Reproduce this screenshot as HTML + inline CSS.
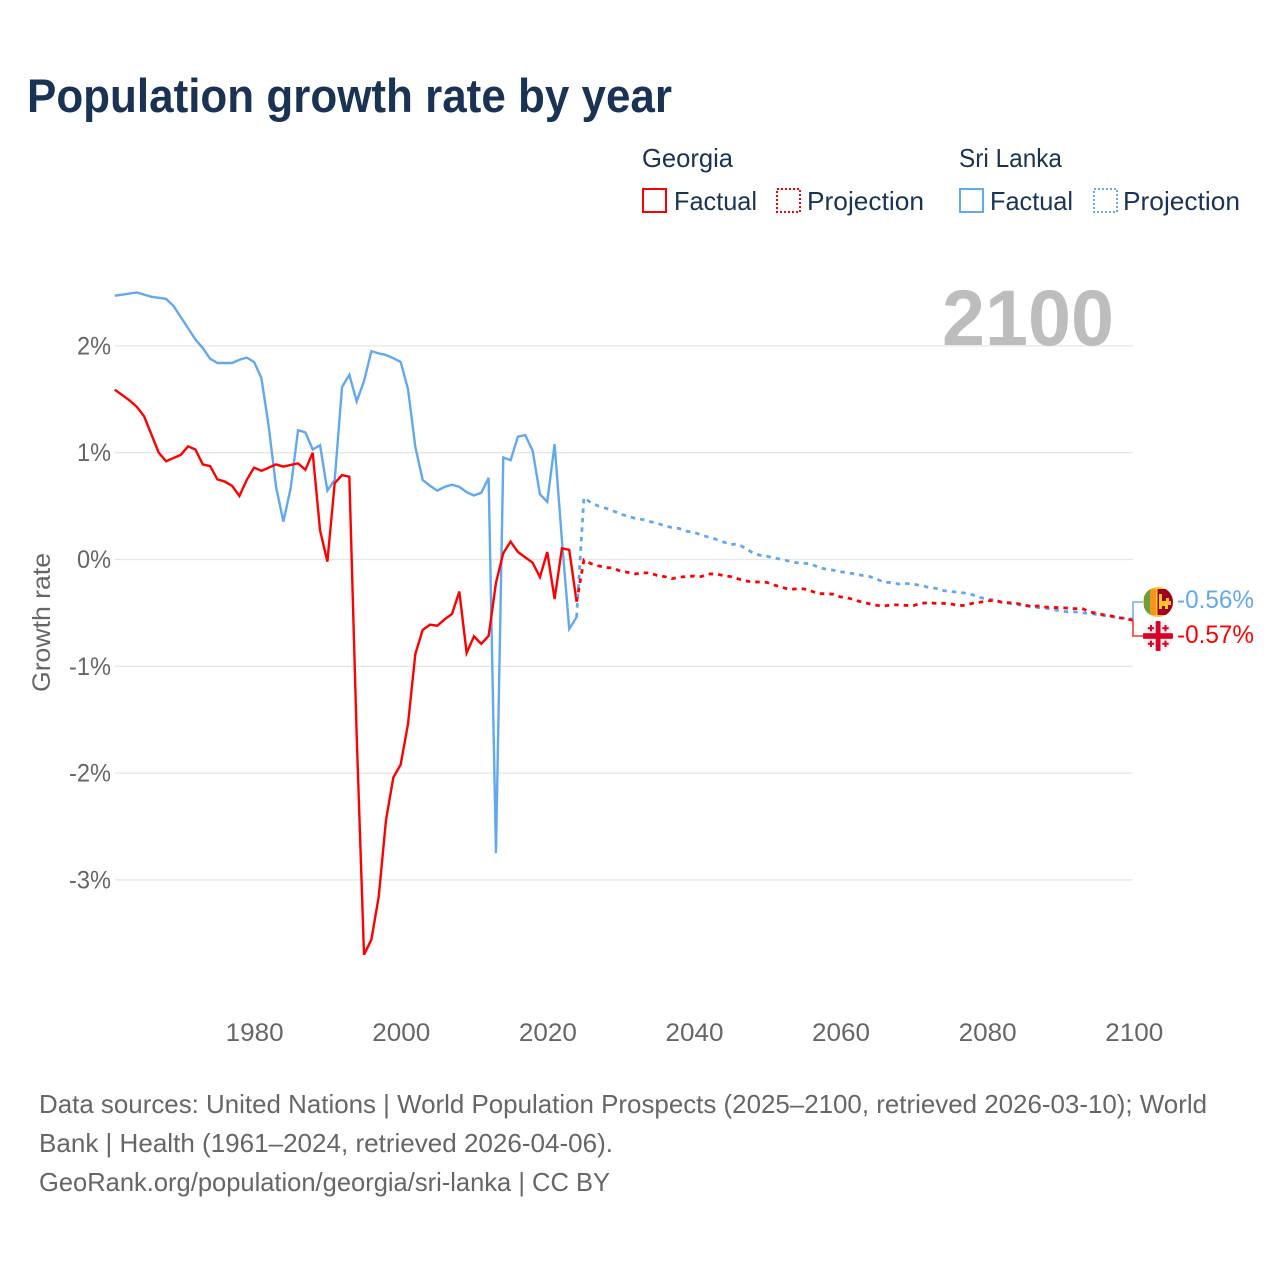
<!DOCTYPE html>
<html lang="en">
<head>
<meta charset="utf-8">
<title>Population growth rate by year</title>
<style>
html,body{margin:0;padding:0;background:#fff;}
#chart{display:block;width:1280px;height:1280px;font-family:"Liberation Sans",sans-serif;}
</style>
</head>
<body>
<svg id="chart" xmlns="http://www.w3.org/2000/svg" width="1280" height="1280" viewBox="0 0 1280 1280">
  <defs>
    <clipPath id="flag-clip-lk"><circle cx="1158" cy="602" r="15"/></clipPath>
    <clipPath id="flag-clip-ge"><circle cx="1158" cy="636" r="15"/></clipPath>
  </defs>
  <rect x="0" y="0" width="1280" height="1280" fill="#fff"/>
  <text x="27" y="112" font-size="47" font-weight="700" fill="#1a3355" textLength="645" lengthAdjust="spacingAndGlyphs">Population growth rate by year</text>

  <g font-size="26" fill="#1a3355">
    <text x="642" y="167" textLength="91" lengthAdjust="spacingAndGlyphs">Georgia</text>
    <rect x="643" y="189" width="23" height="23" fill="none" stroke="#ff0000" stroke-width="2"/>
    <text x="674" y="210" textLength="83" lengthAdjust="spacingAndGlyphs">Factual</text>
    <rect x="777" y="189" width="23" height="23" fill="none" stroke="#ff0000" stroke-width="2" stroke-dasharray="2 2"/>
    <text x="807" y="210" textLength="117" lengthAdjust="spacingAndGlyphs">Projection</text>
    <text x="959" y="167" textLength="103" lengthAdjust="spacingAndGlyphs">Sri Lanka</text>
    <rect x="960" y="189" width="23" height="23" fill="none" stroke="#62a8ef" stroke-width="2"/>
    <text x="990" y="210" textLength="83" lengthAdjust="spacingAndGlyphs">Factual</text>
    <rect x="1094" y="189" width="23" height="23" fill="none" stroke="#62a8ef" stroke-width="2" stroke-dasharray="2 2"/>
    <text x="1123" y="210" textLength="117" lengthAdjust="spacingAndGlyphs">Projection</text>
  </g>

  <g id="grid"></g>
  <text x="942" y="345" font-size="79" font-weight="700" fill="#bdbdbd" textLength="172" lengthAdjust="spacingAndGlyphs">2100</text>
  <g id="yticks" font-size="25" fill="#666"></g>
  <g id="xticks" font-size="25" fill="#666"></g>
  <text transform="translate(50,692) rotate(-90)" font-size="25" fill="#666" textLength="139" lengthAdjust="spacingAndGlyphs">Growth rate</text>
  <g id="series"></g>

  <g id="flag-lk">
    <g clip-path="url(#flag-clip-lk)">
      <rect x="1143" y="587" width="30" height="30" fill="#ffc72c"/>
      <rect x="1144" y="589" width="6" height="26" fill="#6b9e3e"/>
      <rect x="1150" y="589" width="6" height="26" fill="#f7941d"/>
      <rect x="1157.5" y="589" width="15.5" height="26" fill="#a2001d"/>
      <path d="M1159 594h3v7h4v-3h3v3h2v4h-3v4h-3v-3h-3v3h-3z" fill="#ffc72c"/>
    </g>
  </g>
  <g id="flag-ge">
    <g clip-path="url(#flag-clip-ge)">
      <rect x="1143" y="621" width="30" height="30" fill="#f0f0f0"/>
      <rect x="1143" y="633.2" width="30" height="5.6" fill="#d80027"/>
      <rect x="1155.7" y="621" width="4.8" height="30" fill="#d80027"/>
      <path d="M1151 625v6.4M1147.8 628.2h6.4M1165.5 625v6.4M1162.3 628.2h6.4M1151 640.6v6.4M1147.8 643.8h6.4M1165.5 640.6v6.4M1162.3 643.8h6.4" stroke="#d80027" stroke-width="2" fill="none"/>
    </g>
  </g>
  <g id="endlabels" font-size="25"></g>

  <g font-size="26" fill="#666">
    <text x="39" y="1113" textLength="1168" lengthAdjust="spacingAndGlyphs">Data sources: United Nations | World Population Prospects (2025–2100, retrieved 2026-03-10); World</text>
    <text x="39" y="1152" textLength="574" lengthAdjust="spacingAndGlyphs">Bank | Health (1961–2024, retrieved 2026-04-06).</text>
    <text x="39" y="1191" textLength="571" lengthAdjust="spacingAndGlyphs">GeoRank.org/population/georgia/sri-lanka | CC BY</text>
  </g>
</svg>
<script>
// Chart data (growth rate in %)
const factualStartYear = 1961;
const projectionStartYear = 2025;
const yTickValues = [2, 1, 0, -1, -2, -3];
const yTickLabels = ['2%', '1%', '0%', '-1%', '-2%', '-3%'];
const xTickYears = [1980, 2000, 2020, 2040, 2060, 2080, 2100];

const georgiaFactual = [
  1.59,1.54,1.49,1.43,1.34,1.17,1.0,0.92,0.95,0.98,
  1.06,1.03,0.89,0.875,0.75,0.73,0.69,0.595,0.745,0.86,
  0.83,0.86,0.89,0.87,0.885,0.90,0.84,1.0,0.275,-0.02,
  0.715,0.79,0.775,-1.65,-3.7,-3.56,-3.16,-2.44,-2.04,-1.92,
  -1.54,-0.885,-0.66,-0.61,-0.62,-0.56,-0.51,-0.30,-0.875,-0.72,
  -0.79,-0.715,-0.22,0.06,0.167,0.07,0.02,-0.03,-0.165,0.07,
  -0.37,0.105,0.09,-0.395
];
const sriLankaFactual = [
  2.47,2.48,2.49,2.50,2.48,2.46,2.45,2.44,2.375,2.27,
  2.165,2.06,1.98,1.88,1.84,1.84,1.84,1.87,1.89,1.85,
  1.70,1.245,0.68,0.355,0.67,1.21,1.19,1.03,1.07,0.645,
  0.745,1.615,1.73,1.48,1.67,1.95,1.93,1.915,1.885,1.85,
  1.595,1.055,0.745,0.69,0.645,0.68,0.70,0.68,0.63,0.60,
  0.625,0.765,-2.75,0.955,0.93,1.15,1.165,1.02,0.61,0.54,
  1.08,0.18,-0.65,-0.54
];
const georgiaProjection = [
  -0.005,-0.04,-0.06,-0.075,-0.08,-0.11,-0.12,-0.135,-0.125,-0.125,
  -0.15,-0.16,-0.18,-0.165,-0.16,-0.155,-0.16,-0.135,-0.135,-0.15,
  -0.16,-0.18,-0.20,-0.21,-0.21,-0.215,-0.24,-0.26,-0.28,-0.275,
  -0.275,-0.295,-0.32,-0.32,-0.325,-0.35,-0.36,-0.38,-0.40,-0.415,
  -0.43,-0.435,-0.425,-0.425,-0.43,-0.43,-0.41,-0.405,-0.41,-0.41,
  -0.415,-0.43,-0.43,-0.41,-0.40,-0.39,-0.38,-0.40,-0.405,-0.41,
  -0.425,-0.44,-0.435,-0.445,-0.45,-0.45,-0.455,-0.46,-0.46,-0.49,
  -0.505,-0.52,-0.53,-0.545,-0.555,-0.57
];
const sriLankaProjection = [
  0.58,0.53,0.50,0.48,0.455,0.425,0.405,0.385,0.375,0.355,
  0.34,0.315,0.30,0.29,0.265,0.255,0.23,0.21,0.19,0.165,
  0.14,0.145,0.105,0.065,0.04,0.03,0.015,0,-0.015,-0.03,
  -0.035,-0.04,-0.075,-0.09,-0.10,-0.115,-0.125,-0.135,-0.15,-0.16,
  -0.185,-0.215,-0.215,-0.23,-0.225,-0.23,-0.245,-0.26,-0.27,-0.29,
  -0.30,-0.305,-0.315,-0.33,-0.355,-0.37,-0.38,-0.40,-0.41,-0.42,
  -0.43,-0.44,-0.45,-0.455,-0.47,-0.48,-0.49,-0.49,-0.50,-0.505,
  -0.515,-0.525,-0.535,-0.545,-0.55,-0.56
];

const SVGNS = 'http://www.w3.org/2000/svg';
const RED = '#ff0000';
const BLUE = '#62a8ef';

function xScale(year) { return 114.8 + (year - 1961) * 7.33; }
function yScale(value) { return 559.5 - value * 106.8; }

function linePath(startYear, values) {
  return values.map(function (v, i) {
    return (i ? 'L' : 'M') + xScale(startYear + i).toFixed(2) + ' ' + yScale(v).toFixed(2);
  }).join('');
}

const gridGroup = document.getElementById('grid');
const yTickGroup = document.getElementById('yticks');
yTickValues.forEach(function (v, i) {
  const line = document.createElementNS(SVGNS, 'line');
  line.setAttribute('x1', xScale(1961));
  line.setAttribute('x2', 1133);
  line.setAttribute('y1', yScale(v));
  line.setAttribute('y2', yScale(v));
  line.setAttribute('stroke', '#e6e6e6');
  line.setAttribute('stroke-width', '1.3');
  
  
  gridGroup.appendChild(line);

  const label = document.createElementNS(SVGNS, 'text');
  label.setAttribute('x', 111);
  label.setAttribute('y', yScale(v) + 8.5);
  label.setAttribute('text-anchor', 'end');
  label.setAttribute('textLength', yTickLabels[i].length === 3 ? 42 : 34);
  label.setAttribute('lengthAdjust', 'spacingAndGlyphs');
  
  
  label.textContent = yTickLabels[i];
  yTickGroup.appendChild(label);
});

const xTickGroup = document.getElementById('xticks');
xTickYears.forEach(function (year) {
  const label = document.createElementNS(SVGNS, 'text');
  label.setAttribute('x', xScale(year) + 0.6);
  label.setAttribute('y', 1041);
  label.setAttribute('text-anchor', 'middle');
  label.setAttribute('textLength', 58);
  label.setAttribute('lengthAdjust', 'spacingAndGlyphs');
  
  
  label.textContent = String(year);
  xTickGroup.appendChild(label);
});

const seriesGroup = document.getElementById('series');

const lkFactualLine = document.createElementNS(SVGNS, 'path');
lkFactualLine.setAttribute('d', linePath(factualStartYear, sriLankaFactual));
lkFactualLine.setAttribute('fill', 'none');
lkFactualLine.setAttribute('stroke', BLUE);
lkFactualLine.setAttribute('stroke-width', '2.4');
lkFactualLine.setAttribute('stroke-linejoin', 'miter');


seriesGroup.appendChild(lkFactualLine);

const geFactualLine = document.createElementNS(SVGNS, 'path');
geFactualLine.setAttribute('d', linePath(factualStartYear, georgiaFactual));
geFactualLine.setAttribute('fill', 'none');
geFactualLine.setAttribute('stroke', RED);
geFactualLine.setAttribute('stroke-width', '2.4');
geFactualLine.setAttribute('stroke-linejoin', 'miter');


seriesGroup.appendChild(geFactualLine);

const lkProjectionLine = document.createElementNS(SVGNS, 'path');
lkProjectionLine.setAttribute('d', linePath(projectionStartYear - 1, [sriLankaFactual[sriLankaFactual.length - 1]].concat(sriLankaProjection)));
lkProjectionLine.setAttribute('fill', 'none');
lkProjectionLine.setAttribute('stroke', BLUE);
lkProjectionLine.setAttribute('stroke-width', '2.8');
lkProjectionLine.setAttribute('stroke-dasharray', '4.5 5');


seriesGroup.appendChild(lkProjectionLine);

const geProjectionLine = document.createElementNS(SVGNS, 'path');
geProjectionLine.setAttribute('d', linePath(projectionStartYear - 1, [georgiaFactual[georgiaFactual.length - 1]].concat(georgiaProjection)));
geProjectionLine.setAttribute('fill', 'none');
geProjectionLine.setAttribute('stroke', RED);
geProjectionLine.setAttribute('stroke-width', '2.8');
geProjectionLine.setAttribute('stroke-dasharray', '4.5 5');


seriesGroup.appendChild(geProjectionLine);

// End connectors and value labels
const endGroup = document.getElementById('endlabels');
const lkLast = sriLankaProjection[sriLankaProjection.length - 1];
const geLast = georgiaProjection[georgiaProjection.length - 1];

const lkConnector = document.createElementNS(SVGNS, 'path');
lkConnector.setAttribute('d', 'M1133 ' + yScale(lkLast).toFixed(1) + 'V602H1143');
lkConnector.setAttribute('fill', 'none');
lkConnector.setAttribute('stroke', BLUE);
lkConnector.setAttribute('stroke-width', '1.8');
lkConnector.setAttribute('stroke-opacity', '0.8');


endGroup.appendChild(lkConnector);

const geConnector = document.createElementNS(SVGNS, 'path');
geConnector.setAttribute('d', 'M1133 ' + yScale(geLast).toFixed(1) + 'V636H1143');
geConnector.setAttribute('fill', 'none');
geConnector.setAttribute('stroke', RED);
geConnector.setAttribute('stroke-width', '1.8');
geConnector.setAttribute('stroke-opacity', '0.7');


endGroup.appendChild(geConnector);

const lkValue = document.createElementNS(SVGNS, 'text');
lkValue.setAttribute('x', 1177);
lkValue.setAttribute('y', 608);
lkValue.setAttribute('fill', BLUE);
lkValue.setAttribute('textLength', 77);
lkValue.setAttribute('lengthAdjust', 'spacingAndGlyphs');


lkValue.textContent = lkLast.toFixed(2) + '%';
endGroup.appendChild(lkValue);

const geValue = document.createElementNS(SVGNS, 'text');
geValue.setAttribute('x', 1177);
geValue.setAttribute('y', 643);
geValue.setAttribute('fill', RED);
geValue.setAttribute('textLength', 77);
geValue.setAttribute('lengthAdjust', 'spacingAndGlyphs');


geValue.textContent = geLast.toFixed(2) + '%';
endGroup.appendChild(geValue);
</script>
</body>
</html>
